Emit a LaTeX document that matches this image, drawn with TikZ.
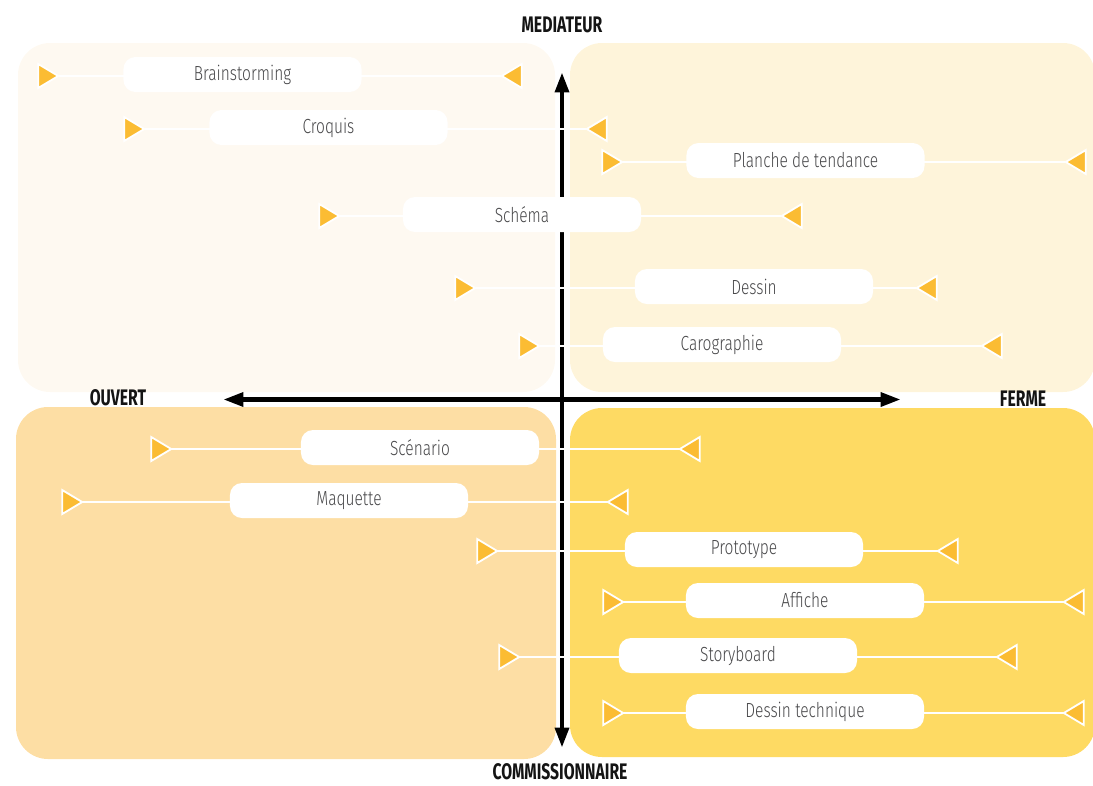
\documentclass[tikz,border=0pt]{standalone}
\usepackage{fontspec}
\setmainfont{Fira Sans}
\newfontfamily\lblfont{Fira Sans Light}[FakeStretch=0.76]
\newfontfamily\axfont{Fira Sans}[FakeStretch=0.7]
\usetikzlibrary{arrows.meta,shapes.geometric}

\definecolor{boxTL}{HTML}{FEF9F1}
\definecolor{boxTR}{HTML}{FEF4DA}
\definecolor{boxBL}{HTML}{FDDEA4}
\definecolor{boxBR}{HTML}{FEDA63}
\definecolor{tri}{HTML}{FBBC33}
\definecolor{txt}{HTML}{48484A}

\pgfdeclarelayer{boxes}
\pgfdeclarelayer{links}
\pgfsetlayers{boxes,links,main}

\tikzset{
  quad/.style={rounded corners=0.8cm},
  axis/.style={line width=3.5pt,{Triangle[length=14.5pt,width=9.5pt]}-{Triangle[length=14.5pt,width=9.5pt]}},
  axlabel/.style={font=\axfont\bfseries\fontsize{16}{17}\selectfont,text=black!92},
  pill/.style={fill=white,rounded corners=0.3cm,minimum width=5.95cm,minimum height=0.875cm,
    inner sep=0pt,text=txt,font=\lblfont\fontsize{14.5}{16}\selectfont},
  tri/.style={isosceles triangle,isosceles triangle stretches,fill=tri,draw=white,
    line width=1.3pt,inner sep=0pt,minimum width=0.6cm,minimum height=0.5cm},
  triR/.style={tri,shape border rotate=0},
  triL/.style={tri,shape border rotate=180},
  link/.style={white,line width=2pt}
}

\begin{document}
\begin{tikzpicture}[x=0.025cm,y=-0.025cm]
    \useasboundingbox (0,0) rectangle (1093,785);

    % quadrants
    \begin{pgfonlayer}{boxes}
    \fill[quad,boxTL] (18,43) rectangle (555,392);
    \fill[quad,boxTR] (570,43) rectangle (1095,392);
    \fill[quad,boxBL] (16,407) rectangle (556,759);
    \fill[quad,boxBR] (570,408) rectangle (1095,757);

    % axes
    \coordinate (top) at (562,72);
    \coordinate (bot) at (562,748);
    \coordinate (lft) at (223,399.5);
    \coordinate (rgt) at (901,399.5);
    \draw[axis] (bot) -- (top);
    \draw[axis] (lft) -- (rgt);
    \end{pgfonlayer}

    \node[axlabel] (med) at (562,25) {MEDIATEUR};
    \node[axlabel] (com) at (560,772) {COMMISSIONNAIRE};
    \node[axlabel] (ouv) at (118,398) {OUVERT};
    \node[axlabel] (fer) at (1023,399) {FERME};

    % supports: y / left tip / pill / right tip / label
    \foreach \y/\a/\p/\b/\t [count=\n] in {
        76/45/242.5/515/Brainstorming,
        129/131/328.5/600/Croquis,
        162/609/805.5/1079/Planche de tendance,
        216/326/522/795/Schéma,
        288/462/754/930/Dessin,
        346/526/722/995/Carographie,
        449/158/420/693/Scénario,
        502/69/349/621/Maquette,
        551/484/744/951/Prototype,
        602/610/805/1077/Affiche,
        657/506/738/1010/Storyboard,
        713/610/805/1077/Dessin technique}{
      \node[triR] (L\n) at (\a,\y) {};
      \node[triL] (R\n) at (\b,\y) {};
      \node[pill] (P\n) at (\p,\y-1.5) {\t};
      \begin{pgfonlayer}{links}
      \draw[link] (L\n.center) -- (R\n.center);
      \end{pgfonlayer}
    }
\end{tikzpicture}
\end{document}
